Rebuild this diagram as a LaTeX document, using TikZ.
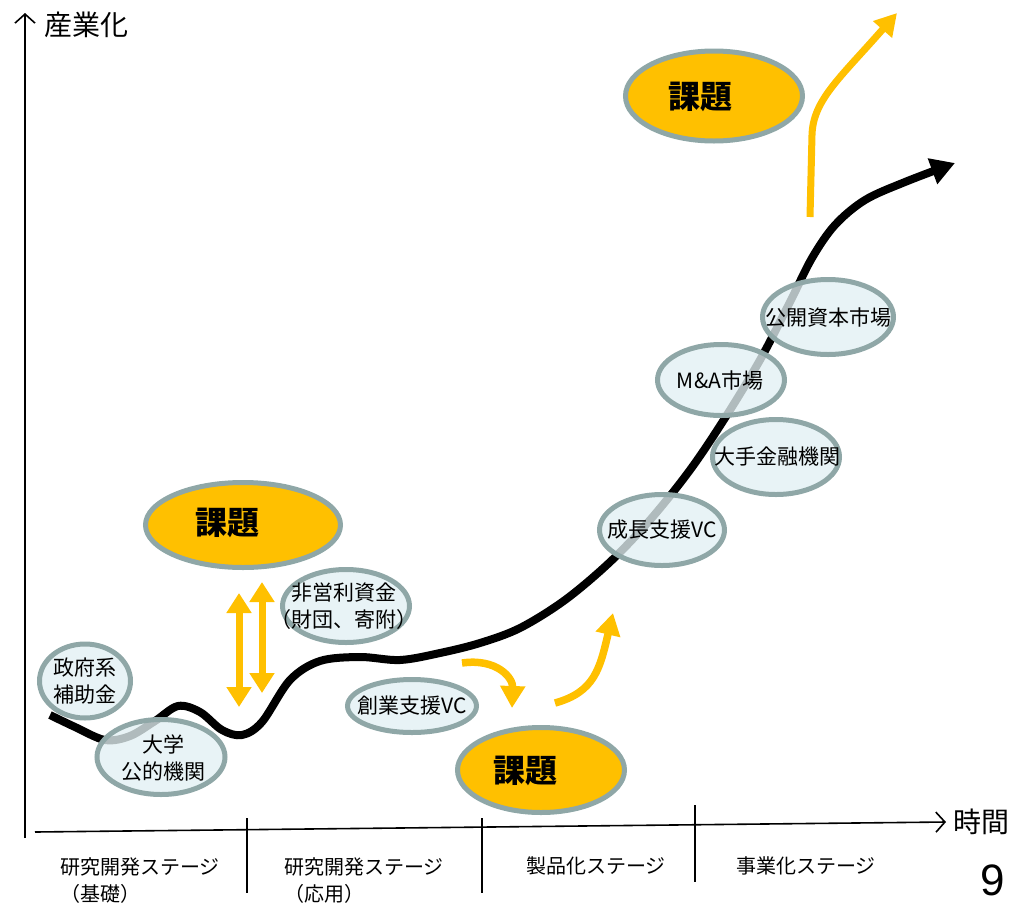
\documentclass[tikz,border=0pt]{standalone}
\usepackage{fontspec}
\setmainfont{Noto Sans CJK JP}
\newfontfamily\numfont{Liberation Sans}
\usetikzlibrary{shapes.geometric,arrows.meta}
\definecolor{kborder}{HTML}{8FA7A7}
\definecolor{kfill}{HTML}{E2F0F3}
\definecolor{kyellow}{HTML}{FFC000}
\tikzset{
  infobox/.style={ellipse, draw=kborder, line width=5pt, fill=kfill, fill opacity=0.78, inner sep=0pt},
  infotext/.style={inner sep=0pt, align=center, font=\fontsize{21}{27}\selectfont},
  issue/.style={ellipse, draw=kborder, line width=5pt, fill=kyellow, inner sep=0pt},
  issuetext/.style={inner sep=0pt, font=\fontsize{32}{36}\selectfont\bfseries},
  flow/.style={draw=kyellow, line width=7.5pt, -{Triangle[length=22pt,width=24pt]}},
  dflow/.style={draw=kyellow, line width=7pt, {Triangle[length=20pt,width=24pt]}-{Triangle[length=20pt,width=24pt]}},
  axis/.style={line width=1.6pt, -{Straight Barb[length=9pt,width=20pt]}},
  tick/.style={line width=1.5pt},
  stagetext/.style={inner sep=0pt, align=left, font=\fontsize{20}{27}\selectfont},
  axislabel/.style={inner sep=0pt, font=\fontsize{28}{32}\selectfont},
}
\begin{document}
\begin{tikzpicture}[x=1pt,y=-1pt]
\useasboundingbox (0,0) rectangle (1013,903);

% axes
\coordinate (yb) at (25,838);
\coordinate (yt) at (25,13);
\coordinate (xl) at (35,832);
\coordinate (xr) at (946,822);
\draw[axis] (yb) -- (yt);
\draw[axis] (xl) -- (xr);
\node[axislabel, anchor=west] (ylab) at (44,25) {産業化};
\node[axislabel, anchor=west] (xlab) at (953,822) {時間};

% stage separators
\coordinate (t1a) at (247,818); \coordinate (t1b) at (247,893);
\coordinate (t2a) at (482,818); \coordinate (t2b) at (482,893);
\coordinate (t3a) at (695,805); \coordinate (t3b) at (695,882);
\draw[tick] (t1a) -- (t1b);
\draw[tick] (t2a) -- (t2b);
\draw[tick] (t3a) -- (t3b);

\node[stagetext, anchor=north west] (s1) at (60,857) {研究開発ステージ\\（基礎）};
\node[stagetext, anchor=north west] (s2) at (284,857) {研究開発ステージ\\（応用）};
\node[stagetext] (s3) at (596,866) {製品化ステージ};
\node[stagetext] (s4) at (806,866) {事業化ステージ};
\node[inner sep=0pt, font=\numfont\fontsize{44}{48}\selectfont] (pg) at (993,880) {9};

% main growth curve
\draw[line width=8pt, -{Triangle[length=24pt,width=26pt]}]
  plot[smooth, tension=0.55] coordinates {(50,715) (75,727) (105,740) (130,736) (155,721) (178,706) (200,712) (222,730) (242,735) (262,722) (290,680) (320,661) (360,657) (400,660) (440,653) (480,643) (520,628) (565,600) (610,562) (650,520) (690,470) (725,418) (760,360) (790,302) (812,258) (835,225) (865,200) (905,182) (955,163)};

% info ellipses
\node[infobox, minimum width=91pt, minimum height=74pt] (gov) at (85,681) {};
\node[infotext] (govt) at (gov) {政府系\\補助金};
\node[infobox, minimum width=128pt, minimum height=75pt] (univ) at (161,757) {};
\node[infotext] (univt) at (163,758) {大学\\公的機関};
\node[infobox, minimum width=127pt, minimum height=73pt] (npo) at (346,606) {};
\node[infotext] (npot) at (344,606) {非営利資金\\（財団、寄附）};
\node[infobox, minimum width=129pt, minimum height=53pt] (svc) at (412,706) {};
\node[infotext] (svct) at (svc) {創業支援VC};
\node[infobox, minimum width=125pt, minimum height=71pt] (gvc) at (662,530) {};
\node[infotext] (gvct) at (gvc) {成長支援VC};
\node[infobox, minimum width=127pt, minimum height=75pt] (bank) at (776,457) {};
\node[infotext] (bankt) at (777,457) {大手金融機関};
\node[infobox, minimum width=127pt, minimum height=71pt] (mna) at (721,380) {};
\node[infotext] (mnat) at (720,381) {M\&A市場};
\node[infobox, minimum width=131pt, minimum height=75pt] (ipo) at (828,317) {};
\node[infotext] (ipot) at (828,318) {公開資本市場};

% issue ellipses
\node[issue, minimum width=195pt, minimum height=85pt] (iss1) at (243,525) {};
\node[issuetext] (iss1t) at (227,523) {課題};
\node[issue, minimum width=167pt, minimum height=85pt] (iss2) at (541,770) {};
\node[issuetext] (iss2t) at (525,771) {課題};
\node[issue, minimum width=177pt, minimum height=90pt] (iss3) at (714,96) {};
\node[issuetext] (iss3t) at (700,97) {課題};

% yellow arrows
\coordinate (d1a) at (239,593); \coordinate (d1b) at (239,707);
\coordinate (d2a) at (262,582); \coordinate (d2b) at (262,693);
\draw[dflow] (d1a) -- (d1b);
\draw[dflow] (d2a) -- (d2b);

\coordinate (f1s) at (462,663); \coordinate (f1e) at (512,708);
\draw[flow] (f1s) .. controls (497,658) and (513,678) .. (f1e);
\coordinate (f2s) at (555,703); \coordinate (f2e) at (613,613);
\draw[flow] (f2s) .. controls (595,692) and (600,668) .. (f2e);
\coordinate (f3s) at (810,217); \coordinate (f3m) at (812,135); \coordinate (f3e) at (897,13);
\draw[flow, line width=7pt] (f3s) -- (f3m) .. controls (813,100) and (840,78) .. (f3e);
\end{tikzpicture}
\end{document}
